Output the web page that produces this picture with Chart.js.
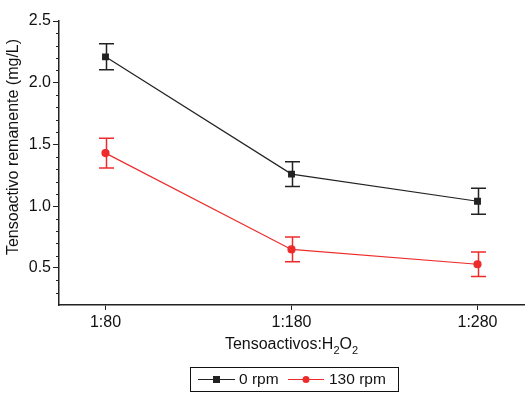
<!DOCTYPE html>
<html>
<head>
<meta charset="utf-8">
<script src="https://cdn.jsdelivr.net/npm/chart.js@4"></script>
<style>
  html, body { margin: 0; padding: 0; background: #fff; }
  #wrap { width: 531px; height: 400px; }
</style>
</head>
<body>
<div id="wrap"><canvas id="chart" width="531" height="400"></canvas></div>
<script>
// data
const categories = ['1:80', '1:180', '1:280'];
const rpm0 = [2.21, 1.26, 1.04];
const rpm0Err = [0.105, 0.10, 0.105];
const rpm130 = [1.43, 0.65, 0.53];
const rpm130Err = [0.12, 0.10, 0.10];
const seriesNames = ['0 rpm', '130 rpm'];
const yTicks = [0.5, 1.0, 1.5, 2.0, 2.5];

const BLACK = '#222222';
const RED = '#ee2b2b';
const FONT = '"Liberation Sans", Arial, sans-serif';

const toPoints = vals => vals.map((v, i) => ({ x: i, y: v }));

// error bars, minor ticks, axis titles and the boxed legend
const extras = {
    id: 'extras',
    afterDatasetsDraw(chart) {
        const ctx = chart.ctx;
        const xs = chart.scales.x, ys = chart.scales.y;
        const bars = [[rpm0, rpm0Err, BLACK], [rpm130, rpm130Err, RED]];
        ctx.save();
        ctx.lineWidth = 1.5;
        bars.forEach(([vals, errs, col]) => {
            ctx.strokeStyle = col;
            vals.forEach((v, i) => {
                const px = Math.round(xs.getPixelForValue(i)) + 0.5;
                const top = ys.getPixelForValue(v + errs[i]);
                const bot = ys.getPixelForValue(v - errs[i]);
                ctx.beginPath();
                ctx.moveTo(px, top); ctx.lineTo(px, bot);
                ctx.moveTo(px - 7.5, top); ctx.lineTo(px + 7.5, top);
                ctx.moveTo(px - 7.5, bot); ctx.lineTo(px + 7.5, bot);
                ctx.stroke();
            });
        });
        ctx.restore();
    },
    afterDraw(chart) {
        const ctx = chart.ctx;
        const ys = chart.scales.y;
        const area = chart.chartArea;
        ctx.save();
        // minor ticks every 0.1
        ctx.strokeStyle = BLACK;
        ctx.lineWidth = 1;
        for (let k = 3; k <= 24; k++) {
            if (k % 5 === 0) continue;
            const py = Math.round(ys.getPixelForValue(k / 10)) + 0.5;
            ctx.beginPath();
            ctx.moveTo(area.left - 3, py); ctx.lineTo(area.left, py);
            ctx.stroke();
        }
        // y title
        ctx.fillStyle = '#111';
        ctx.font = '16px ' + FONT;
        ctx.textAlign = 'center';
        ctx.textBaseline = 'middle';
        ctx.save();
        ctx.translate(14, 147);
        ctx.rotate(-Math.PI / 2);
        ctx.fillText('Tensoactivo remanente (mg/L)', 0, 0);
        ctx.restore();
        // x title with subscripts
        const parts = [['Tensoactivos:H', false], ['2', true], ['O', false], ['2', true]];
        let widths = parts.map(([t, sub]) => {
            ctx.font = (sub ? '11px ' : '16px ') + FONT;
            return ctx.measureText(t).width;
        });
        let x0 = (area.left + area.right) / 2 - widths.reduce((a, b) => a + b, 0) / 2;
        ctx.textAlign = 'left';
        ctx.textBaseline = 'alphabetic';
        parts.forEach(([t, sub], i) => {
            ctx.font = (sub ? '11px ' : '16px ') + FONT;
            ctx.fillText(t, x0, sub ? 354 : 349);
            x0 += widths[i];
        });
        // legend box
        ctx.strokeStyle = '#111';
        ctx.lineWidth = 1;
        ctx.strokeRect(190.5, 367.5, 208, 24);
        const ly = 379.5;
        ctx.font = '15.5px ' + FONT;
        ctx.textBaseline = 'middle';
        // 0 rpm
        ctx.strokeStyle = BLACK;
        ctx.beginPath(); ctx.moveTo(198, ly); ctx.lineTo(235, ly); ctx.stroke();
        ctx.fillStyle = BLACK;
        ctx.fillRect(213, ly - 3.5, 7, 7);
        ctx.fillStyle = '#111';
        ctx.fillText(seriesNames[0], 239, ly);
        // 130 rpm
        ctx.strokeStyle = RED;
        ctx.beginPath(); ctx.moveTo(288, ly); ctx.lineTo(324, ly); ctx.stroke();
        ctx.fillStyle = RED;
        ctx.beginPath(); ctx.arc(306, ly, 3.5, 0, Math.PI * 2); ctx.fill();
        ctx.fillStyle = '#111';
        ctx.fillText(seriesNames[1], 329, ly);
        ctx.restore();
    }
};

new Chart(document.getElementById('chart'), {
    type: 'line',
    data: {
        datasets: [
            {
                label: seriesNames[0],
                data: toPoints(rpm0),
                borderColor: BLACK,
                backgroundColor: BLACK,
                borderWidth: 1.2,
                pointStyle: 'rect',
                pointRadius: 4,
                pointHoverRadius: 4
            },
            {
                label: seriesNames[1],
                data: toPoints(rpm130),
                borderColor: RED,
                backgroundColor: RED,
                borderWidth: 1.2,
                pointStyle: 'circle',
                pointRadius: 3.5,
                pointHoverRadius: 3.5
            }
        ]
    },
    options: {
        responsive: false,
        animation: false,
        layout: { padding: { left: 0, right: 7, top: 21, bottom: 0 } },
        plugins: {
            legend: { display: false },
            tooltip: { enabled: false }
        },
        scales: {
            x: {
                type: 'linear',
                min: -0.25,
                max: 2.25,
                afterBuildTicks: s => { s.ticks = categories.map((c, i) => ({ value: i })); },
                afterFit: s => { s.height = 95; },
                ticks: {
                    callback: v => categories[v],
                    color: '#111',
                    font: { family: FONT, size: 16 },
                    padding: 3,
                    maxRotation: 0
                },
                grid: { drawOnChartArea: false, tickLength: 5, color: BLACK },
                border: { color: BLACK, width: 1.5 }
            },
            y: {
                min: 0.2,
                max: 2.5,
                afterBuildTicks: s => { s.ticks = yTicks.map(v => ({ value: v })); },
                afterFit: s => { s.width = 59; },
                ticks: {
                    callback: v => v.toFixed(1),
                    color: '#111',
                    font: { family: FONT, size: 16 },
                    padding: 2
                },
                grid: { drawOnChartArea: false, tickLength: 6, color: BLACK },
                border: { color: BLACK, width: 1.5 }
            }
        }
    },
    plugins: [extras]
});
</script>
</body>
</html>
